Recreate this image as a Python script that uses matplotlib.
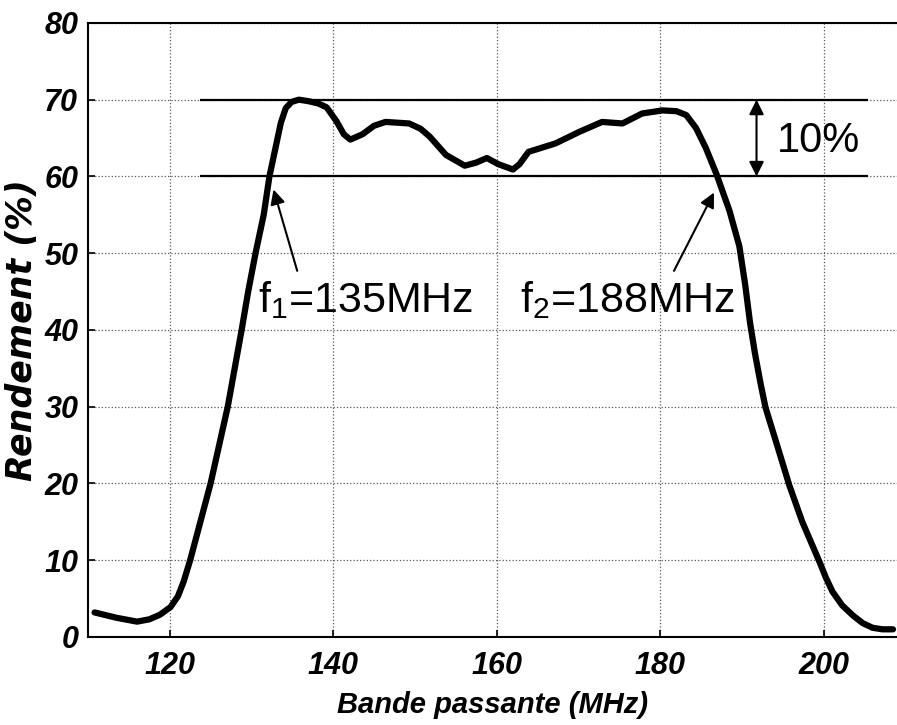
import matplotlib
matplotlib.use("Agg")
import matplotlib.pyplot as plt

# efficiency vs frequency
freq = [110.8, 113.5, 116.0, 117.5, 118.8, 120.1, 121.0, 121.7, 122.5, 125.0,
        127.1, 128.8, 129.6, 130.5, 131.5, 132.2, 133.0, 133.6, 134.2, 134.9,
        135.8, 137.0, 138.2, 139.2, 140.4, 141.3, 142.1, 143.6, 145.0, 146.4,
        149.3, 150.7, 151.8, 153.8, 156.1, 157.5, 158.8, 160.2, 162.0, 162.8,
        163.9, 167.2, 170.1, 172.9, 175.4, 177.8, 180.3, 182.0, 183.2, 184.4,
        185.6, 186.9, 188.5, 189.7, 190.4, 191.0, 191.6, 192.3, 192.9, 194.2,
        195.8, 197.4, 199.5, 200.3, 201.1, 202.3, 203.6, 204.8, 206.0, 207.2,
        208.5]
rendement = [3.2, 2.5, 2.0, 2.3, 2.9, 3.9, 5.3, 7.2, 10.0, 20.0,
             30.0, 40.0, 45.0, 50.0, 55.0, 60.0, 64.0, 67.0, 68.9, 69.7,
             70.0, 69.8, 69.5, 69.0, 67.2, 65.5, 64.8, 65.5, 66.6, 67.1,
             66.9, 66.2, 65.2, 62.8, 61.4, 61.8, 62.4, 61.6, 60.9, 61.6,
             63.2, 64.3, 65.8, 67.1, 66.9, 68.2, 68.6, 68.5, 68.0, 66.3,
             63.7, 60.3, 55.5, 50.9, 46.0, 41.0, 37.0, 33.0, 29.9, 25.4,
             19.8, 15.0, 9.8, 7.7, 5.9, 4.1, 2.8, 1.8, 1.2, 1.0,
             1.0]

x_ticks = [120, 140, 160, 180, 200]
y_ticks = [0, 10, 20, 30, 40, 50, 60, 70, 80]
levels = [60, 70]

plt.rcParams['font.family'] = ['Liberation Sans', 'DejaVu Sans']
plt.rcParams['mathtext.fontset'] = 'custom'
plt.rcParams['mathtext.rm'] = 'Liberation Sans'

fig = plt.figure(figsize=(8.97, 7.25), dpi=100)
ax = fig.add_axes([0.0981, 0.1214, 0.902, 0.847])

ax.plot(freq, rendement, color='black', lw=4.5, solid_capstyle='round',
        solid_joinstyle='round', zorder=3)
ax.hlines(levels, 123.7, 205.5, color='black', lw=1.6, zorder=2)

ax.annotate('', xy=(191.8, 70), xytext=(191.8, 60),
            arrowprops=dict(arrowstyle='<|-|>', color='black', lw=1.5,
                            mutation_scale=22, shrinkA=0, shrinkB=0))
ax.text(199.4, 64.6, '10%', fontsize=30, ha='center', va='center')

ax.annotate('', xy=(132.7, 58.3), xytext=(135.6, 47.7),
            arrowprops=dict(arrowstyle='-|>', color='black', lw=1.5,
                            mutation_scale=22, shrinkA=0, shrinkB=0))
ax.annotate('', xy=(186.6, 57.9), xytext=(181.7, 47.7),
            arrowprops=dict(arrowstyle='-|>', color='black', lw=1.5,
                            mutation_scale=22, shrinkA=0, shrinkB=0))
ax.text(144.0, 42.3, r'$\mathrm{f_1}$=135MHz', fontsize=31, ha='center', va='baseline')
ax.text(176.0, 42.3, r'$\mathrm{f_2}$=188MHz', fontsize=31, ha='center', va='baseline')

ax.set_xlim(110, 209)
ax.set_ylim(0, 80)
ax.set_xticks(x_ticks)
ax.set_yticks(y_ticks)
ax.grid(True, linestyle=':', color='0.35', lw=0.9)
ax.tick_params(direction='in', length=5, width=1.2, pad=10)
for lab in ax.get_xticklabels() + ax.get_yticklabels():
    lab.set_fontsize(22)
    lab.set_fontweight('bold')
    lab.set_fontstyle('italic')
ax.tick_params(axis='y', pad=7)

for side in ['left', 'bottom', 'top']:
    ax.spines[side].set_linewidth(1.5)
ax.spines['right'].set_visible(False)

ax.set_xlabel('Bande passante (MHz)', fontsize=21, fontweight='bold',
              fontstyle='italic', labelpad=7)
ax.set_ylabel('Rendement (%)', fontsize=25, fontweight='bold',
              fontstyle='italic', labelpad=4, family=['DejaVu Sans'])

fig.savefig('out.png', dpi=100)
